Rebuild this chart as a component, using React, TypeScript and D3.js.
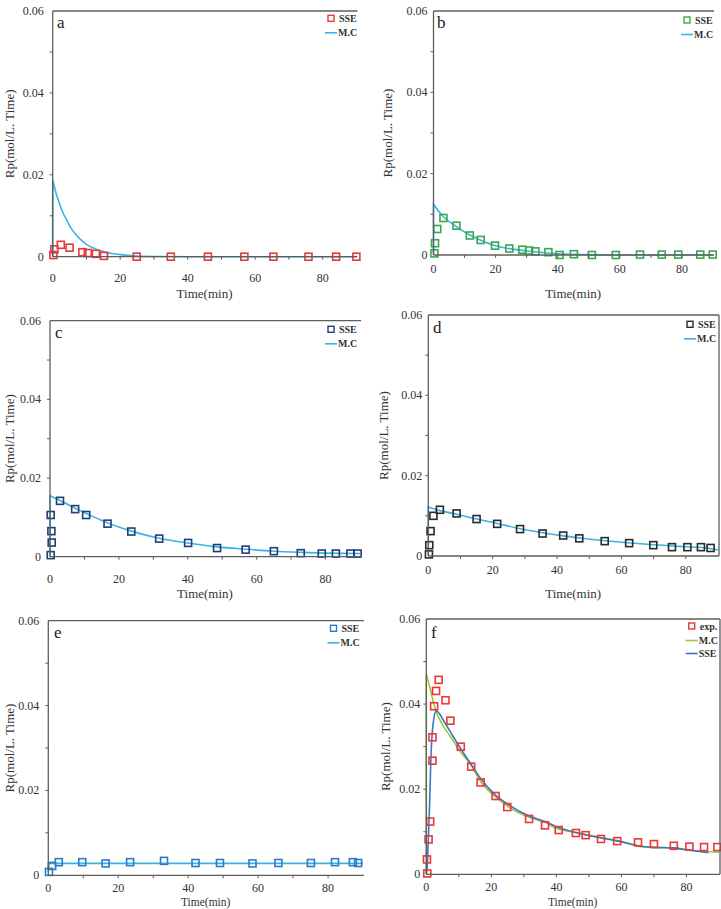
import React from 'react'
import * as d3 from 'd3'

type Pt = [number, number]

// tick labels
const X_TICKS = [0, 20, 40, 60, 80]
const Y_TICKS = [0, 0.02, 0.04, 0.06]
const Y_TICK_LABELS = ['0', '0.02', '0.04', '0.06']

// panel a
const sseA: Pt[] = [[0.2, 0.0004], [0.5, 0.0018], [2.4, 0.0029], [5, 0.0022], [8.8, 0.0011], [10.4, 0.0009], [12.8, 0.0007], [15.2, 0.0002], [24.9, 0], [35, 0], [46, 0], [56.8, 0], [65.4, 0], [75.8, 0], [84, 0], [90, 0]]
const mcA: Pt[] = [[0, 0], [0, 0.0188], [1, 0.0155], [2, 0.013], [3, 0.0108], [4, 0.0092], [5, 0.0076], [6, 0.0063], [8, 0.0044], [10, 0.003], [12, 0.0021], [14, 0.0015], [16, 0.001], [18, 0.0007], [20, 0.0005], [24, 0.0002], [30, 0.00005], [40, 0], [90, 0]]

// panel b
const sseB: Pt[] = [[0.3, 0.0004], [0.5, 0.0029], [1.2, 0.0064], [3.2, 0.0091], [7.4, 0.0072], [11.7, 0.0048], [15.2, 0.0037], [19.8, 0.0023], [24.4, 0.0016], [28.6, 0.0013], [30.8, 0.0011], [32.8, 0.0009], [37, 0.0007], [40.6, 0], [45.2, 0.0002], [51, 0], [58.7, 0], [66.5, 0.0001], [73.5, 0.0001], [78.8, 0.0001], [85.9, 0.0001], [89.9, 0.0001]]
const mcB: Pt[] = [[0, 0], [0, 0.0125], [3.2, 0.0094], [7.4, 0.007], [11.7, 0.0049], [15, 0.0037], [20, 0.0023], [25, 0.0015], [30, 0.001], [35, 0.0006], [40, 0.0003], [50, 0.0001], [60, 0], [90, 0]]

// panel c
const sseC: Pt[] = [[0.2, 0.0004], [0.5, 0.0036], [0.4, 0.0065], [0.2, 0.0106], [2.9, 0.0142], [7.3, 0.0121], [10.5, 0.0106], [16.7, 0.0084], [23.6, 0.0064], [31.7, 0.0046], [40.1, 0.0035], [48.5, 0.0022], [56.8, 0.0018], [65, 0.0014], [72.8, 0.0009], [78.9, 0.0008], [83, 0.0008], [87.2, 0.0008], [89.3, 0.0008]]
const mcC: Pt[] = [[0, 0], [0, 0.0155], [2.9, 0.0143], [7.3, 0.0123], [10.5, 0.011], [16.7, 0.0086], [23.6, 0.0065], [31.7, 0.0047], [40, 0.0035], [48.5, 0.0025], [56.8, 0.0019], [65, 0.0014], [73, 0.0011], [80, 0.0009], [90, 0.0008]]

// panel d
const sseD: Pt[] = [[0.2, 0.0004], [0.3, 0.0027], [0.7, 0.0062], [1.6, 0.01], [3.6, 0.0115], [8.8, 0.0106], [15, 0.0092], [21.4, 0.008], [28.5, 0.0067], [35.5, 0.0056], [41.9, 0.0051], [46.9, 0.0044], [54.8, 0.0037], [62.4, 0.0032], [69.9, 0.0027], [75.7, 0.0022], [80.5, 0.0022], [84.7, 0.0022], [87.7, 0.002]]
const mcD: Pt[] = [[0, 0], [0, 0.0122], [3.6, 0.0113], [8.8, 0.0104], [15, 0.0092], [21.4, 0.0081], [28.5, 0.0068], [35.5, 0.0058], [42, 0.005], [47, 0.0045], [55, 0.0038], [62, 0.0033], [70, 0.0028], [76, 0.0025], [80, 0.0023], [85, 0.0021], [90, 0.0015]]

// panel e
const sseE: Pt[] = [[0.2, 0.0008], [1.1, 0.0022], [3, 0.0031], [9.7, 0.0031], [16.4, 0.0028], [23.4, 0.0031], [33.1, 0.0034], [42.1, 0.0029], [49.1, 0.0029], [58.4, 0.0028], [65.8, 0.0029], [75.1, 0.0029], [82, 0.0031], [87.1, 0.0031], [88.6, 0.0029]]
const mcE: Pt[] = [[0, 0.0008], [0, 0.0028], [20, 0.0028], [40, 0.0028], [60, 0.0028], [90, 0.0028]]

// panel f
const expF: Pt[] = [[0.3, 0.0002], [0.2, 0.0035], [0.7, 0.0082], [1.2, 0.0124], [1.9, 0.0267], [1.9, 0.0322], [2.4, 0.0395], [3, 0.0431], [3.8, 0.0457], [5.9, 0.0409], [7.4, 0.0361], [10.6, 0.03], [13.8, 0.0253], [16.7, 0.0216], [21.3, 0.0184], [24.9, 0.0158], [31.6, 0.013], [36.5, 0.0115], [40.7, 0.0104], [46, 0.0097], [49, 0.0092], [53.7, 0.0083], [58.7, 0.0078], [65.1, 0.0075], [70, 0.0071], [76.1, 0.0067], [80.9, 0.0065], [85.4, 0.0064], [89.5, 0.0064]]
const mcF: Pt[] = [[0, 0], [0, 0.0471], [1, 0.0442], [2, 0.041], [3, 0.0383], [5, 0.0351], [7.4, 0.0324], [10, 0.0293], [13.8, 0.0256], [16.7, 0.0218], [21, 0.0184], [25, 0.016], [31.6, 0.0134], [36.5, 0.0122], [40, 0.0108], [46, 0.0098], [54, 0.0086], [59, 0.0079], [66, 0.0065], [70, 0.0064], [76, 0.0061], [80, 0.0057], [87, 0.0053], [90, 0.0052]]
const sseF: Pt[] = [[0, 0], [0.3, 0.002], [0.6, 0.008], [1, 0.016], [1.4, 0.027], [1.8, 0.033], [2.3, 0.0365], [3, 0.0384], [4, 0.0378], [5, 0.0365], [7, 0.034], [10, 0.0302], [13.8, 0.0258], [16.7, 0.0225], [21, 0.0188], [25, 0.0165], [31.6, 0.0137], [36.5, 0.0124], [40, 0.0112], [46, 0.0098], [54, 0.0085], [59, 0.0078], [66, 0.0066], [70, 0.0063], [76, 0.0062], [80, 0.0058], [86.7, 0.0051]]

const CYAN = '#38b4e4'
const FONT = 'Liberation Serif, serif'

interface LineSeries { name: string; data: Pt[]; color: string }
interface PanelDef {
  letter: string
  x0: number; x90: number; top: number; zero: number
  letterPos: Pt
  yLabelX: number
  xLabelY: number
  xLabelSize: number
  tickOff: number
  yTickGap: number
  legendX: number; legendY: number
  markers: { name: string; data: Pt[]; color: string }
  lines: LineSeries[]
  rightBorder: boolean
}

const panels: PanelDef[] = [
  { letter: 'a', x0: 52.7, x90: 356.4, top: 11, zero: 256.7, letterPos: [57, 28], yLabelX: 9, xLabelY: 293, xLabelSize: 13, tickOff: 21.7, yTickGap: 9, legendX: 331, legendY: 18.3, markers: { name: 'SSE', data: sseA, color: '#e5393b' }, lines: [{ name: 'M.C', data: mcA, color: CYAN }], rightBorder: false },
  { letter: 'b', x0: 433.5, x90: 713, top: 11, zero: 255, letterPos: [437, 28], yLabelX: 387, xLabelY: 293, xLabelSize: 13, tickOff: 14.3, yTickGap: 6, legendX: 687, legendY: 20, markers: { name: 'SSE', data: sseB, color: '#3aa84a' }, lines: [{ name: 'M.C', data: mcB, color: CYAN }], rightBorder: false },
  { letter: 'c', x0: 50, x90: 360, top: 320.7, zero: 556.7, letterPos: [55, 338], yLabelX: 9, xLabelY: 593, xLabelSize: 13, tickOff: 22.7, yTickGap: 9, legendX: 331, legendY: 329.3, markers: { name: 'SSE', data: sseC, color: '#1f3f74' }, lines: [{ name: 'M.C', data: mcC, color: CYAN }], rightBorder: false },
  { letter: 'd', x0: 428.3, x90: 718, top: 315, zero: 556, letterPos: [433, 333], yLabelX: 383, xLabelY: 593, xLabelSize: 13, tickOff: 14, yTickGap: 6, legendX: 690, legendY: 324.3, markers: { name: 'SSE', data: sseD, color: '#2a2a2a' }, lines: [{ name: 'M.C', data: mcD, color: CYAN }], rightBorder: true },
  { letter: 'e', x0: 48.3, x90: 363, top: 620.7, zero: 875.3, letterPos: [54, 638], yLabelX: 9, xLabelY: 902, xLabelSize: 11.5, tickOff: 12.5, yTickGap: 9, legendX: 333.5, legendY: 628.3, markers: { name: 'SSE', data: sseE, color: '#2b7bc9' }, lines: [{ name: 'M.C', data: mcE, color: CYAN }], rightBorder: false },
  { letter: 'f', x0: 426.3, x90: 719, top: 619, zero: 874.3, letterPos: [431, 638], yLabelX: 385, xLabelY: 902, xLabelSize: 11.5, tickOff: 12.5, yTickGap: 6, legendX: 691.7, legendY: 626, markers: { name: 'exp.', data: expF, color: '#ee3636' }, lines: [{ name: 'M.C', data: mcF, color: '#9cc641' }, { name: 'SSE', data: sseF, color: '#3b77bf' }], rightBorder: true },
]

function Panel({ p }: { p: PanelDef }) {
  const x = d3.scaleLinear().domain([0, 90]).range([p.x0, p.x90])
  const y = d3.scaleLinear().domain([0, 0.06]).range([p.zero, p.top])
  const line = d3.line<Pt>().x(d => x(d[0])).y(d => y(d[1])).curve(d3.curveMonotoneX)

  // vertical riser at t=0 then a smooth curve
  const pathFor = (pts: Pt[]) => {
    if (pts.length > 1 && pts[0][0] === pts[1][0]) {
      const d = line(pts.slice(1)) || ''
      return `M${x(pts[0][0])},${y(pts[0][1])}L${d.slice(1)}`
    }
    return line(pts) || ''
  }

  const right = Math.min(p.x90 + 1, 720)
  const frame = '#5e5e5e'
  const minorX = d3.range(10, 90, 10)
  const minorY = d3.range(0.01, 0.06, 0.01)
  const sq = 7

  return (
    <g>
      {/* lines */}
      {p.lines.map(s => (
        <path key={s.name} d={pathFor(s.data)} fill="none" stroke={s.color} strokeWidth={1.6} />
      ))}
      {/* markers */}
      {p.markers.data.map((d, i) => (
        <rect key={i} x={x(d[0]) - sq / 2} y={y(d[1]) - sq / 2} width={sq} height={sq}
          fill="none" stroke={p.markers.color} strokeWidth={1.6} />
      ))}
      {/* frame */}
      <line x1={p.x0} x2={p.x0} y1={p.top} y2={p.zero} stroke={frame} strokeWidth={1.3} />
      <line x1={p.x0} x2={right} y1={p.top} y2={p.top} stroke={frame} strokeWidth={1.3} />
      <line x1={p.x0} x2={right} y1={p.zero} y2={p.zero} stroke={frame} strokeWidth={1.3} />
      {p.rightBorder && <line x1={right} x2={right} y1={p.top} y2={p.zero} stroke={frame} strokeWidth={1.3} />}
      {minorX.map(t => (
        <line key={'mx' + t} x1={x(t)} x2={x(t)} y1={p.zero} y2={p.zero + 3} stroke={frame} strokeWidth={1} />
      ))}
      {minorY.map(t => (
        <line key={'my' + t} x1={p.x0} x2={p.x0 - 3} y1={y(t)} y2={y(t)} stroke={frame} strokeWidth={1} />
      ))}
      {/* tick labels */}
      {X_TICKS.map(t => (
        <text key={'xt' + t} x={x(t)} y={p.zero + p.tickOff} dominantBaseline="central" textAnchor="middle"
          fontFamily={FONT} fontSize={12} fill="#333">{t}</text>
      ))}
      {Y_TICKS.map((t, i) => (
        <text key={'yt' + t} x={p.x0 - p.yTickGap} y={y(t)} dominantBaseline="central" textAnchor="end"
          fontFamily={FONT} fontSize={12} fill="#333">{Y_TICK_LABELS[i]}</text>
      ))}
      {/* axis titles */}
      <text x={(p.x0 + p.x90) / 2} y={p.xLabelY} dominantBaseline="central" textAnchor="middle"
        fontFamily={FONT} fontSize={p.xLabelSize} fill="#333">Time(min)</text>
      <text transform={`translate(${p.yLabelX},${(p.top + p.zero) / 2}) rotate(-90)`} dominantBaseline="central"
        textAnchor="middle" fontFamily={FONT} fontSize={13} fill="#333">Rp(mol/L. Time)</text>
      {/* panel letter */}
      <text x={p.letterPos[0]} y={p.letterPos[1]} fontFamily={FONT} fontSize={17} fill="#222">{p.letter}</text>
      {/* legend */}
      <rect x={p.legendX - 3} y={p.legendY - 3} width={6} height={6} fill="none" stroke={p.markers.color} strokeWidth={1.4} />
      <text x={p.legendX + 8} y={p.legendY} dominantBaseline="central" fontFamily={FONT} fontSize={10} fontWeight="bold" fill="#333">{p.markers.name}</text>
      {p.lines.map((s, i) => (
        <g key={'lg' + s.name}>
          <line x1={p.legendX - 6} x2={p.legendX + 6} y1={p.legendY + 14.5 + i * 13} y2={p.legendY + 14.5 + i * 13} stroke={s.color} strokeWidth={1.6} />
          <text x={p.legendX + 7} y={p.legendY + 14.5 + i * 13} dominantBaseline="central" fontFamily={FONT} fontSize={10} fontWeight="bold" fill="#333">{s.name}</text>
        </g>
      ))}
    </g>
  )
}

export default function App() {
  return (
    <svg width={721} height={909} style={{ position: 'absolute', left: 0, top: 0, background: '#fff' }}>
      <rect width={721} height={909} fill="#fff" />
      {panels.map(p => <Panel key={p.letter} p={p} />)}
    </svg>
  )
}
